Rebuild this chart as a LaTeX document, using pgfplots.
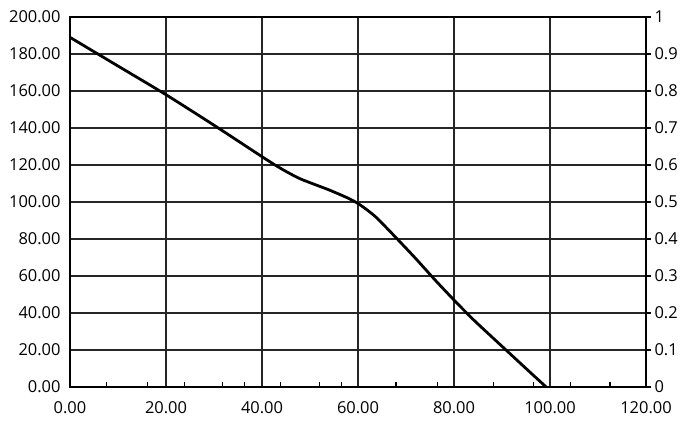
\documentclass[border=0pt]{standalone}
\usepackage{fontspec}
\setmainfont{Open Sans}
\usepackage{pgfplots}
\pgfplotsset{compat=1.18}
\begin{document}
\begin{tikzpicture}
\begin{axis}[
  name=ax,
  scale only axis,
  width=576bp, height=370bp,
  xmin=0, xmax=120, ymin=0, ymax=200,
  xtick={0,20,...,120}, ytick={0,20,...,200},
  grid=major,
  major grid style={draw=black!85, line width=1.3bp},
  x axis line style={line width=2.6bp},
  y axis line style={line width=2bp},
  xtick style={draw=none}, ytick style={draw=none},
  xtick pos=bottom, ytick pos=left,
  ticklabel style={font=\fontsize{16.5}{19}\selectfont},
  /pgf/number format/assume math mode=true,
  /pgf/number format/.cd, fixed, fixed zerofill, precision=2, 1000 sep={},
  /pgfplots/.cd,
  xticklabel style={yshift=-11bp},
  yticklabel style={xshift=-6bp},
  extra x ticks={7.6,16.2,23.8,31.8,36.3,43.9,51.9,56.5,67.9,76.5,88.2,96.5,104.3,112.5},
  extra x tick labels={},
  extra x tick style={grid=none, tick align=inside, major tick length=5bp,
     xtick style={draw=black, line width=1.2bp}},
]
\addplot[black, line width=2.8bp, smooth, tension=0.4] coordinates {
(0,189) (10,173.5) (20,158) (30,141.5) (40,124.5) (44,118) (48,112.5)
(54,106.5) (58,102) (60,99.2) (62,95.5) (64,91.2) (68,80.5) (72,69.5)
(76,58) (80,47) (84,36.5) (88,26.8) (92,17.2) (96,7.6) (99.2,0)
};
\end{axis}
\begin{axis}[
  scale only axis,
  width=576bp, height=370bp,
  xmin=0, xmax=120, ymin=0, ymax=1,
  axis x line=none,
  axis y line*=right,
  y axis line style={line width=2.8bp},
  ytick={0,0.1,...,1},
  yticklabels={0,0.1,0.2,0.3,0.4,0.5,0.6,0.7,0.8,0.9,1},
  tick align=outside,
  major tick length=5bp,
  ytick style={draw=black, line width=1.2bp},
  ticklabel style={font=\fontsize{16.5}{19}\selectfont},
]
\addplot[draw=none] coordinates {(0,0)};
\end{axis}
\path ([shift={(-70bp,-45bp)}]ax.south west) rectangle ([shift={(54bp,17bp)}]ax.north east);
\end{tikzpicture}
\end{document}
